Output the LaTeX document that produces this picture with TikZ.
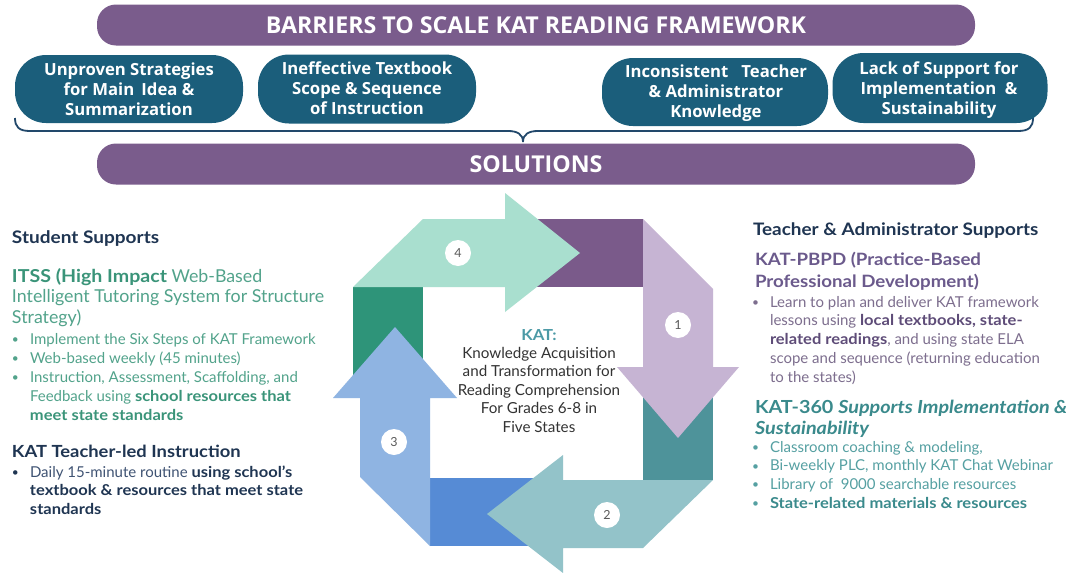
\documentclass[tikz,border=0pt]{standalone}
\usepackage{fontspec}
\setmainfont{Lato}[BoldFeatures={FakeStretch=1.1}, BoldItalicFeatures={FakeStretch=1.1}]
\newfontfamily\headfont{Open Sans}

\definecolor{bannerpurple}{HTML}{7A5C8C}
\definecolor{pillteal}{HTML}{1B5E7B}
\definecolor{bracenavy}{HTML}{22486B}
\definecolor{navy}{HTML}{1F3552}
\definecolor{navylight}{HTML}{3F5373}
\definecolor{itssgreen}{HTML}{3A9479}
\definecolor{itsslight}{HTML}{52A38B}
\definecolor{pbpdpurple}{HTML}{6B5A8C}
\definecolor{pbpdbody}{HTML}{7D6E8E}
\definecolor{pbpdbold}{HTML}{5E4C78}
\definecolor{katteal}{HTML}{3A8A8C}
\definecolor{katbody}{HTML}{55A0A2}
\definecolor{centerteal}{HTML}{4C9AA6}
\definecolor{centergray}{HTML}{333333}
\definecolor{arrowmint}{HTML}{A9DFCF}
\definecolor{blockpurple}{HTML}{7A5A8A}
\definecolor{arrowlilac}{HTML}{C6B4D3}
\definecolor{blockteal}{HTML}{4E939A}
\definecolor{arrowaqua}{HTML}{93C3C9}
\definecolor{blockblue}{HTML}{568BD5}
\definecolor{arrowblue}{HTML}{8FB4E2}
\definecolor{blockgreen}{HTML}{2E9479}

% bullet marker and matching hanging indent
\newcommand\bul{\makebox[18pt][l]{\raisebox{0.6pt}{\scalebox{0.8}{\textbullet}}}}
\newcommand\ind{\hspace*{18pt}}
% stacked lines; the block's baseline is that of its first line
\newcommand\blockL[1]{\begin{tabular}[t]{@{}l@{}}#1\end{tabular}}
\newcommand\blockC[1]{\begin{tabular}[t]{@{}c@{}}#1\end{tabular}}
\newcommand\fs[2]{\fontsize{#1}{#2}\selectfont}

\begin{document}
\begin{tikzpicture}[x=1pt,y=-1pt,
  every node/.style={inner sep=0pt, outer sep=0pt},
  banner/.style={fill=bannerpurple, rounded corners=19pt, minimum width=878pt,
    minimum height=41pt, text=white, font=\headfont\bfseries\fs{23.2}{23}},
  pill/.style={fill=pillteal, rounded corners=31pt},
  pilltext/.style={anchor=base, text=white, font=\headfont\bfseries\fs{16.7}{20}},
  txt/.style={anchor=base west},
  num/.style={circle, fill=white, minimum size=26pt, text=black!65, font=\fs{12.5}{12}}
]
\useasboundingbox (0,0) rectangle (1066,573);
\fill[white] (0,0) rectangle (1066,573);

% ---- headline banners ----
\node[banner] (barriers) at (536,25) {BARRIERS TO SCALE KAT READING FRAMEWORK};

% brace gathering the four barriers
\draw[bracenavy, line width=1.8pt]
  (15,118) .. controls (15,127) and (19,131) .. (30,131) -- (508,131)
  .. controls (517,131) and (523,134) .. (523,142)
  .. controls (523,134) and (529,131) .. (538,131) -- (1018,131)
  .. controls (1029,131) and (1033,127) .. (1033,118);

\node[banner] (solutions) at (536,164) {SOLUTIONS};

% ---- barrier pills ----
\node[pill, minimum width=228pt, minimum height=68pt] (b1) at (129,89) {};
\node[pill, minimum width=218pt, minimum height=69pt] (b2) at (367,89) {};
\node[pill, minimum width=226pt, minimum height=68pt] (b3) at (715,92) {};
\node[pill, minimum width=215pt, minimum height=70pt] (b4) at (940,88) {};
\node[pilltext] (b1t) at (129,75) {\blockC{Unproven Strategies\\ for Main\, Idea \&\\ Summarization}};
\node[pilltext] (b2t) at (367,74) {\blockC{Ineffective Textbook\\ Scope \& Sequence\\ of Instruction}};
\node[pilltext] (b3t) at (716,77) {\blockC{Inconsistent\ \ \ Teacher\\ \& Administrator\\ Knowledge}};
\node[pilltext] (b4t) at (939,74) {\blockC{Lack of Support for\\ Implementation\ \ \&\\ Sustainability}};

% ---- cycle: corner blocks ----
\fill[blockpurple] (505,219) rectangle (643,287);
\fill[blockteal]   (643,367) rectangle (713,480);
\fill[blockblue]   (430,478) rectangle (563,546);
\fill[blockgreen]  (353,287) rectangle (423,398);

% ---- cycle: arrows ----
\fill[arrowmint]  (353,287) -- (423,219) -- (505,219) -- (505,193) -- (580,253)
                  -- (505,312) -- (505,287) -- cycle;
\fill[arrowlilac] (643,219) -- (713,289) -- (713,367) -- (739,367) -- (678,438)
                  -- (617,367) -- (643,367) -- cycle;
\fill[arrowaqua]  (713,480) -- (643,548) -- (563,548) -- (563,573) -- (487,514)
                  -- (563,455) -- (563,480) -- cycle;
\fill[arrowblue]  (430,546) -- (360,477) -- (360,398) -- (333,398) -- (395,327)
                  -- (457,398) -- (430,398) -- cycle;

\node[num] (s4) at (458,253) {4};
\node[num] (s1) at (678,325) {1};
\node[num] (s2) at (607,515) {2};
\node[num] (s3) at (394,442) {3};

\node[anchor=base, text=centergray, font=\fs{15.2}{18.4}] (kat) at (539,340)
  {\blockC{{\color{centerteal}\bfseries KAT:}\\ Knowledge Acquisition\\ and Transformation for\\
   Reading Comprehension\\ For Grades 6-8 in\\ Five States}};

% ---- student supports ----
\node[txt, text=navy, font=\bfseries\fs{17.3}{19}] (stu) at (12,243) {Student Supports};
\node[txt, text=itsslight, font=\fs{17.8}{20.5}] (itss) at (12,282)
  {\blockL{{\color{itssgreen}\bfseries ITSS (High Impact} Web-Based\\
   Intelligent Tutoring System for Structure\\ Strategy)}};
\node[txt, text=itsslight, font=\fs{15}{19}] (itssb) at (12,344)
  {\blockL{\bul Implement the Six Steps of KAT Framework\\
   \bul Web-based weekly (45 minutes)\\
   \bul Instruction, Assessment, Scaffolding, and\\
   \ind Feedback using {\color{itssgreen}\bfseries school resources that}\\
   \ind {\color{itssgreen}\bfseries meet state standards}}};
\node[txt, text=navy, font=\bfseries\fs{16.7}{20}] (tli) at (12,457) {KAT Teacher-led Instruction};
\node[txt, text=navy, font=\fs{15}{18.5}] (tlib) at (12,477)
  {\blockL{\bul {\color{navylight}Daily 15-minute routine} \textbf{using school's}\\
   \ind\textbf{textbook \& resources that meet state}\\
   \ind\textbf{standards}}};

% ---- teacher & administrator supports ----
\node[txt, text=navy, font=\bfseries\fs{17.2}{20}] (tas) at (753,235) {Teacher \& Administrator Supports};
\node[txt, text=pbpdpurple, font=\bfseries\fs{17}{22}] (pbpd) at (755,265)
  {\blockL{KAT-PBPD (Practice-Based\\ Professional Development)}};
\node[txt, text=pbpdbody, font=\fs{15}{18.75}] (pbpdb) at (752,307)
  {\blockL{\bul Learn to plan and deliver KAT framework\\
   \ind lessons using {\color{pbpdbold}\bfseries local textbooks, state-}\\
   \ind {\color{pbpdbold}\bfseries related readings}, and using state ELA\\
   \ind scope and sequence (returning education\\
   \ind to the states)}};
\node[txt, text=katteal, font=\bfseries\fs{18}{21}] (k360) at (755,413)
  {\blockL{KAT-360 \textit{Supports Implementation \&}\\ \textit{Sustainability}}};
\node[txt, text=katbody, font=\fs{15}{18.7}] (k360b) at (752,452)
  {\blockL{\bul Classroom coaching \& modeling,\\
   \bul Bi-weekly PLC, monthly KAT Chat Webinar\\
   \bul Library of\ \ 9000 searchable resources\\
   \bul {\color{katteal}\bfseries State-related materials \& resources}}};
\end{tikzpicture}
\end{document}
